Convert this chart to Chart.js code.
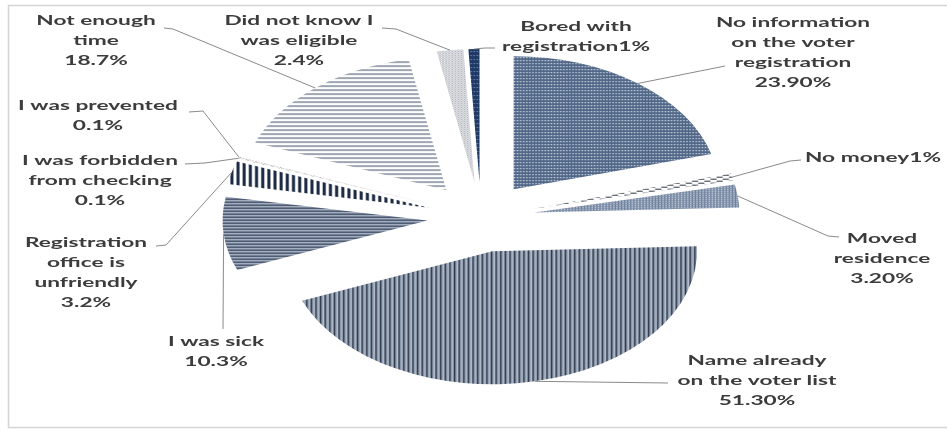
<!DOCTYPE html>
<html>
<head>
<meta charset="utf-8">
<script src="https://cdn.jsdelivr.net/npm/chart.js@4"></script>
<style>
  html, body { margin: 0; padding: 0; background: #ffffff; }
  #wrap { width: 947px; height: 431px; position: relative; }
  canvas { display: block; }
</style>
</head>
<body>
<div id="wrap"><canvas id="chart" width="947" height="431"></canvas></div>
<script>
// Reasons for not registering to vote (share of answers, %)
const categories = [
  'No information on the voter registration',
  'No money',
  'Moved residence',
  'Name already on the voter list',
  'I was sick',
  'Registration office is unfriendly',
  'I was forbidden from checking',
  'I was prevented',
  'Not enough time',
  'Did not know I was eligible',
  'Bored with registration'
];
const shares = [23.9, 1, 3.2, 51.3, 10.3, 3.2, 0.1, 0.1, 18.7, 2.4, 1];
const shareDecimals = [2, 0, 2, 2, 1, 1, 1, 1, 1, 1, 0];

// Wrapped label text for each slice
const labelLines = [
  ['No information', 'on the voter', 'registration'],
  ['No money'],
  ['Moved', 'residence'],
  ['Name already', 'on the voter list'],
  ['I was sick'],
  ['Registration', 'office is', 'unfriendly'],
  ['I was forbidden', 'from checking'],
  ['I was prevented'],
  ['Not enough', 'time'],
  ['Did not know I', 'was eligible'],
  ['Bored with', 'registration']
];
// true: the percentage is appended to the last text line
const valueInline = [false, true, false, false, false, false, false, false, false, false, true];

// Label placement: anchor x, first baseline y, alignment, leader line start and elbow
const labelLayout = [
  { x: 793, y: 27,  align: 'center', from: [725, 66],  elbow: [725, 66] },
  { x: 805, y: 162, align: 'left',   from: [801, 160], elbow: [790, 161] },
  { x: 882, y: 243, align: 'center', from: [839, 237], elbow: [828, 236] },
  { x: 757, y: 365, align: 'center', from: [668, 383], elbow: [668, 383] },
  { x: 216, y: 346, align: 'center', from: [223, 329], elbow: [223, 329] },
  { x: 86,  y: 247, align: 'center', from: [156, 246], elbow: [166, 245] },
  { x: 100, y: 165, align: 'center', from: [185, 164], elbow: [205, 163] },
  { x: 98,  y: 110, align: 'center', from: [189, 112], elbow: [203, 111] },
  { x: 96,  y: 25,  align: 'center', from: [164, 28],  elbow: [173, 29] },
  { x: 299, y: 25,  align: 'center', from: [382, 28],  elbow: [396, 29] },
  { x: 576, y: 31,  align: 'center', from: [495, 48],  elbow: [485, 48] }
];

const LINE_HEIGHT = 20;
const PIE_STRETCH = 1.54;   // horizontal stretch of the pie (elliptical look)
const TEXT_STRETCH = 1.62;  // horizontal stretch of the label text
const EXPLODE = 35;         // distance each slice is pulled out from the centre

const canvas = document.getElementById('chart');
const ctx = canvas.getContext('2d');

// Small tiled fills
function makePattern(w, h, bg, marks) {
  const c = document.createElement('canvas');
  c.width = w; c.height = h;
  const g = c.getContext('2d');
  g.fillStyle = bg;
  g.fillRect(0, 0, w, h);
  marks.forEach(([x, y, mw, mh, col]) => { g.fillStyle = col; g.fillRect(x, y, mw, mh); });
  return ctx.createPattern(c, 'repeat');
}

const fills = [
  makePattern(2, 3, '#526889', [[1, 1, 1, 1, '#d9dfe8']]),                                  // no information
  makePattern(8, 4, '#ffffff', [[0, 1, 4, 1, '#2b3340'], [4, 3, 4, 1, '#2b3340']]),          // no money
  makePattern(2, 2, '#ffffff', [[0, 0, 1, 1, '#566c8e'], [1, 1, 1, 1, '#566c8e'], [1, 0, 1, 1, '#8797b0']]), // moved
  makePattern(3, 1, '#8f9db2', [[0, 0, 1, 1, '#2f3a4a'], [2, 0, 1, 1, '#b3bdcb']]),          // name on list
  makePattern(1, 3, '#8593ab', [[0, 0, 1, 1, '#1f2d47'], [0, 2, 1, 1, '#c3cbd7']]),          // sick
  makePattern(4, 1, '#ffffff', [[0, 0, 2, 1, '#1d2b45']]),                                  // unfriendly
  makePattern(2, 2, '#ffffff', [[0, 0, 1, 1, '#555555']]),                                  // forbidden
  makePattern(2, 2, '#ffffff', [[1, 1, 1, 1, '#555555']]),                                  // prevented
  makePattern(1, 4, '#ffffff', [[0, 0, 1, 2, '#9ea6b2']]),                                  // not enough time
  makePattern(2, 2, '#ffffff', [[0, 0, 1, 1, '#9197a0'], [1, 1, 1, 1, '#b5bac1']]),          // did not know
  makePattern(2, 4, '#1f3a66', [[1, 2, 1, 1, '#7084a6']])                                   // bored
];

function fmtShare(i) {
  return shares[i].toFixed(shareDecimals[i]) + '%';
}

// Screen position of the outer edge at the middle of a slice
function edgePoint(arc) {
  const mid = (arc.startAngle + arc.endAngle) / 2;
  const r = EXPLODE + arc.outerRadius;
  return [arc.x + Math.cos(mid) * r * PIE_STRETCH, arc.y + Math.sin(mid) * r];
}

const explodedEllipse = {
  id: 'explodedEllipse',
  beforeDraw(chart) {
    const c = chart.ctx;
    c.save();
    c.fillStyle = '#ffffff';
    c.fillRect(0, 0, chart.width, chart.height);
    c.strokeStyle = '#d4d4d4';
    c.lineWidth = 1.5;
    c.strokeRect(8.5, 5.5, chart.width + 10, chart.height - 9);
    c.restore();
  },
  beforeDatasetsDraw(chart) {
    const c = chart.ctx;
    chart.getDatasetMeta(0).data.forEach((arc) => {
      const mid = (arc.startAngle + arc.endAngle) / 2;
      c.save();
      c.translate(arc.x, arc.y);
      c.scale(PIE_STRETCH, 1);
      c.translate(Math.cos(mid) * EXPLODE, Math.sin(mid) * EXPLODE);
      c.translate(-arc.x, -arc.y);
      arc.draw(c);
      c.restore();
    });
    return false;
  },
  afterDraw(chart) {
    const c = chart.ctx;
    const arcs = chart.getDatasetMeta(0).data;
    c.save();
    // leader lines
    c.strokeStyle = '#8a8a8a';
    c.lineWidth = 1;
    arcs.forEach((arc, i) => {
      const L = labelLayout[i];
      const p = edgePoint(arc);
      c.beginPath();
      c.moveTo(L.from[0], L.from[1]);
      c.lineTo(L.elbow[0], L.elbow[1]);
      c.lineTo(p[0], p[1]);
      c.stroke();
    });
    // labels
    c.fillStyle = '#3c3c3c';
    c.font = 'bold 14px Lato';
    c.textBaseline = 'alphabetic';
    arcs.forEach((arc, i) => {
      const L = labelLayout[i];
      const lines = labelLines[i].slice();
      if (valueInline[i]) lines[lines.length - 1] += fmtShare(i);
      else lines.push(fmtShare(i));
      c.textAlign = L.align;
      lines.forEach((t, k) => {
        c.save();
        c.translate(L.x, L.y + k * LINE_HEIGHT);
        c.scale(TEXT_STRETCH, 1);
        c.fillText(t, 0, 0);
        c.restore();
      });
    });
    c.restore();
  }
};

new Chart(canvas, {
  type: 'pie',
  data: {
    labels: categories,
    datasets: [{
      data: shares,
      backgroundColor: fills,
      borderWidth: 0,
      radius: 133
    }]
  },
  options: {
    responsive: false,
    animation: false,
    layout: { padding: { left: 15, top: 3, right: 0, bottom: 0 } },
    plugins: { legend: { display: false }, tooltip: { enabled: false } }
  },
  plugins: [explodedEllipse]
});
</script>
</body>
</html>
